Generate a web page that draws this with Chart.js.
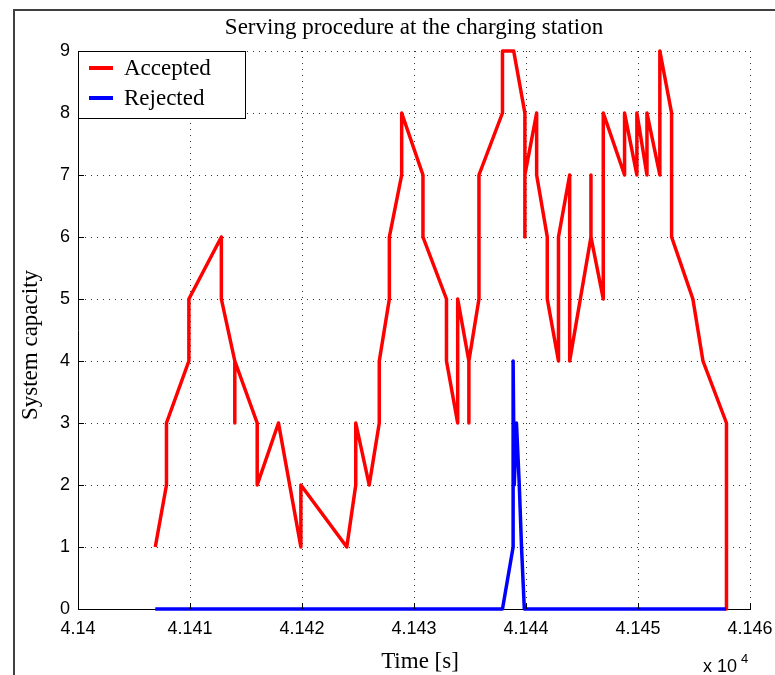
<!DOCTYPE html>
<html>
<head>
<meta charset="utf-8">
<title>Serving procedure at the charging station</title>
<script src="https://cdn.jsdelivr.net/npm/chart.js@4.4.0/dist/chart.umd.min.js"></script>
<style>
    html, body { margin: 0; padding: 0; background: #fff; }
    #wrap { width: 775px; height: 675px; }
</style>
</head>
<body>
<div id="wrap"><canvas id="capacityChart" width="775" height="675"></canvas></div>
<script>
// event times [s] and number of vehicles in the system
const acceptedTime = [
    41406.9, 41407.9, 41407.9, 41409.9, 41409.9, 41412.8, 41412.8, 41414.0, 41414.0, 41414.0,
    41416.0, 41416.0, 41417.9, 41419.9, 41419.9, 41424.0, 41424.8, 41424.8, 41426.0, 41426.9,
    41426.9, 41427.8, 41427.8, 41428.9, 41428.9, 41430.8, 41430.8, 41432.9, 41432.9, 41433.9,
    41433.9, 41434.9, 41434.9, 41434.9, 41435.8, 41435.8, 41437.9, 41437.9, 41438.9, 41439.9,
    41439.9, 41439.9, 41440.95, 41440.95, 41441.9, 41441.9, 41442.9, 41442.9, 41443.9, 41443.9,
    41445.8, 41445.8, 41445.8, 41446.9, 41446.9, 41448.8, 41448.8, 41449.9, 41449.9, 41450.8,
    41450.8, 41451.95, 41451.95, 41453.0, 41453.0, 41454.9, 41455.8, 41457.9, 41457.9
];
const acceptedCount = [
    1, 2, 3, 4, 5, 6, 5, 4, 3, 4,
    3, 2, 3, 1, 2, 1, 2, 3, 2, 3,
    4, 5, 6, 7, 8, 7, 6, 5, 4, 3,
    5, 4, 3, 4, 5, 7, 8, 9, 9, 8,
    6, 7, 8, 7, 6, 5, 4, 6, 7, 4,
    6, 7, 6, 5, 8, 7, 8, 7, 8, 7,
    8, 7, 9, 8, 6, 5, 4, 3, 0
];
const rejectedTime = [41406.9, 41437.9, 41438.85, 41438.85, 41438.95, 41439.15, 41439.4, 41439.6, 41439.85, 41457.85];
const rejectedCount = [0, 0, 1, 4, 2, 3, 2, 1, 0, 0];

const xTickLabels = ['4.14', '4.141', '4.142', '4.143', '4.144', '4.145', '4.146'];
const yTickLabels = ['0', '1', '2', '3', '4', '5', '6', '7', '8', '9'];

const serif = '"Liberation Serif", "Times New Roman", serif';
const sans = '"Liberation Sans", Arial, sans-serif';

function toPoints(xs, ys) {
    return xs.map((x, i) => ({x: x, y: ys[i]}));
}

// white page, outer frame, inward ticks, titles and boxed legend
const decorations = {
    id: 'decorations',
    beforeDraw(chart) {
        const ctx = chart.ctx;
        ctx.save();
        ctx.fillStyle = '#fff';
        ctx.fillRect(0, 0, chart.width, chart.height);
        ctx.restore();
    },
    afterDraw(chart) {
        const {ctx, chartArea: a, scales: {x, y}} = chart;
        ctx.save();

        ctx.strokeStyle = '#404040';
        ctx.lineWidth = 2;
        ctx.beginPath();
        ctx.moveTo(14, chart.height);
        ctx.lineTo(14, 10);
        ctx.lineTo(chart.width, 10);
        ctx.stroke();

        ctx.strokeStyle = '#000';
        ctx.lineWidth = 1;
        ctx.beginPath();
        x.ticks.forEach(t => {
            const px = Math.round(x.getPixelForValue(t.value)) + 0.5;
            ctx.moveTo(px, a.bottom);
            ctx.lineTo(px, a.bottom - 6);
        });
        y.ticks.forEach(t => {
            const py = Math.round(y.getPixelForValue(t.value)) + 0.5;
            ctx.moveTo(a.left, py);
            ctx.lineTo(a.left + 6, py);
        });
        ctx.stroke();

        ctx.fillStyle = '#000';
        ctx.font = '23px ' + serif;
        ctx.textAlign = 'center';
        ctx.textBaseline = 'alphabetic';
        ctx.fillText('Serving procedure at the charging station', 414, 34);
        ctx.fillText('Time [s]', 420, 668);

        ctx.save();
        ctx.translate(37, 345);
        ctx.rotate(-Math.PI / 2);
        ctx.fillText('System capacity', 0, 0);
        ctx.restore();

        ctx.textAlign = 'left';
        ctx.font = '18px ' + sans;
        ctx.fillText('x 10', 703, 672);
        ctx.font = '13px ' + sans;
        ctx.fillText('4', 741, 663);

        // legend
        ctx.fillStyle = '#fff';
        ctx.fillRect(a.left, a.top, 168, 67);
        ctx.strokeStyle = '#000';
        ctx.strokeRect(a.left + 0.5, a.top + 0.5, 167, 67);
        ctx.font = '23px ' + serif;
        const rows = [68, 98];
        chart.data.datasets.forEach((ds, i) => {
            ctx.strokeStyle = ds.borderColor;
            ctx.lineWidth = 4;
            ctx.beginPath();
            ctx.moveTo(89, rows[i]);
            ctx.lineTo(113, rows[i]);
            ctx.stroke();
            ctx.fillStyle = '#000';
            ctx.fillText(ds.label, 124, rows[i] + 7);
        });

        ctx.restore();
    }
};

const data = {
    datasets: [{
        label: 'Accepted',
        data: toPoints(acceptedTime, acceptedCount),
        borderColor: '#ff0000',
        borderWidth: 3.5,
        order: 2
    }, {
        label: 'Rejected',
        data: toPoints(rejectedTime, rejectedCount),
        borderColor: '#0000ff',
        borderWidth: 3.5,
        order: 1
    }]
};

const config = {
    type: 'line',
    data: data,
    options: {
        responsive: false,
        animation: false,
        devicePixelRatio: 1,
        layout: {padding: {top: 51, right: 25, left: 0, bottom: 0}},
        elements: {
            point: {radius: 0, hoverRadius: 0},
            line: {tension: 0, borderJoinStyle: 'round', fill: false}
        },
        datasets: {line: {clip: 4}},
        plugins: {
            legend: {display: false},
            title: {display: false},
            tooltip: {enabled: false}
        },
        scales: {
            x: {
                type: 'linear',
                min: 41400,
                max: 41460,
                afterFit: s => { s.height = 66; },
                ticks: {
                    stepSize: 10,
                    padding: 0,
                    color: '#000',
                    font: {family: sans, size: 18},
                    maxRotation: 0,
                    callback: (v, i) => xTickLabels[i]
                },
                // invisible outer tick marks only push the labels down
                grid: {color: '#333', lineWidth: 1, drawTicks: true, tickLength: 9, tickColor: 'rgba(0,0,0,0)'},
                border: {display: true, color: '#000', width: 1, dash: [1, 5]}
            },
            y: {
                min: 0,
                max: 9,
                afterFit: s => { s.width = 78; },
                ticks: {
                    stepSize: 1,
                    padding: 8,
                    color: '#000',
                    font: {family: sans, size: 18},
                    callback: (v, i) => yTickLabels[i]
                },
                grid: {color: '#333', lineWidth: 1, drawTicks: false},
                border: {display: true, color: '#000', width: 1, dash: [1, 5]}
            }
        }
    },
    plugins: [decorations]
};

const capacityChart = new Chart(document.getElementById('capacityChart'), config);
</script>
</body>
</html>
